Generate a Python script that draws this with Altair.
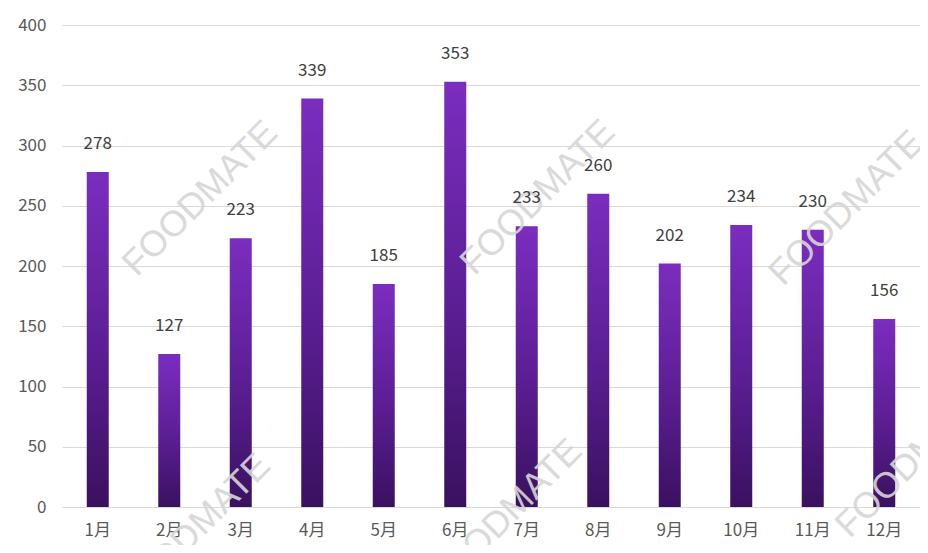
import altair as alt
import pandas as pd

months = ["1月", "2月", "3月", "4月", "5月", "6月", "7月", "8月", "9月", "10月", "11月", "12月"]
values = [278, 127, 223, 339, 185, 353, 233, 260, 202, 234, 230, 156]

# watermark text (decoration), anchored to a month and a value, with a horizontal shift
wm_month = ["2月", "7月", "11月", "2月", "7月", "12月"]
wm_value = [256, 257, 248, -20, -8, 39]
wm_shift = [31, 11, 34, 24, -22, 29]

df = pd.DataFrame({"month": months, "value": values})
wm = pd.DataFrame({"month": wm_month, "value": wm_value})

FONT = "Noto Sans CJK SC"

x = alt.X("month:N", sort=months, title=None,
          scale=alt.Scale(paddingInner=0, paddingOuter=0),
          axis=alt.Axis(labelAngle=0, labelFont=FONT, labelFontSize=17, labelColor="#595959",
                        labelPadding=15, ticks=False, domain=False, grid=False))
y = alt.Y("value:Q", title=None,
          scale=alt.Scale(domain=[0, 400], nice=False),
          axis=alt.Axis(values=[0, 50, 100, 150, 200, 250, 300, 350, 400], labelFont=FONT,
                        labelFontSize=17, labelColor="#595959", labelPadding=16, ticks=False,
                        domain=False, gridColor="#d9d9d9", gridWidth=1))

base = alt.Chart(df)

layers_wm = []
for i in range(len(wm)):
    d = round(wm_shift[i] * 0.7071, 1)  # dx/dy are applied in the rotated frame
    layers_wm.append(
        alt.Chart(wm.iloc[[i]]).mark_text(
            text="FOODMATE", angle=315, fontSize=36, font="Liberation Sans",
            color="#d6d6d6", opacity=0.9, dx=d, dy=d, align="center", baseline="middle", clip=False
        ).encode(x=alt.X("month:N", sort=months), y="value:Q")
    )

bars = base.mark_bar(
    size=22,
    color=alt.Gradient(
        gradient="linear",
        stops=[alt.GradientStop(color="#7b2dbf", offset=0),
               alt.GradientStop(color="#5a1e92", offset=0.55),
               alt.GradientStop(color="#3a1160", offset=1)],
        x1=0, x2=0, y1=0, y2=1,
    ),
).encode(x=x, y=y)

labels = base.mark_text(
    baseline="bottom", dy=-19, font=FONT, fontSize=17, color="#404040"
).encode(x=alt.X("month:N", sort=months), y="value:Q", text="value:Q")

chart = alt.layer(bars, *layers_wm, labels).properties(
    width=858, height=482,
    padding={"left": 54, "top": 17, "right": 0, "bottom": 38},
    autosize=alt.AutoSizeParams(type="none"),
    background="white",
).configure_view(strokeOpacity=0, strokeWidth=0)

chart.save("out.html", embed_options={"renderer": "svg", "actions": False})
